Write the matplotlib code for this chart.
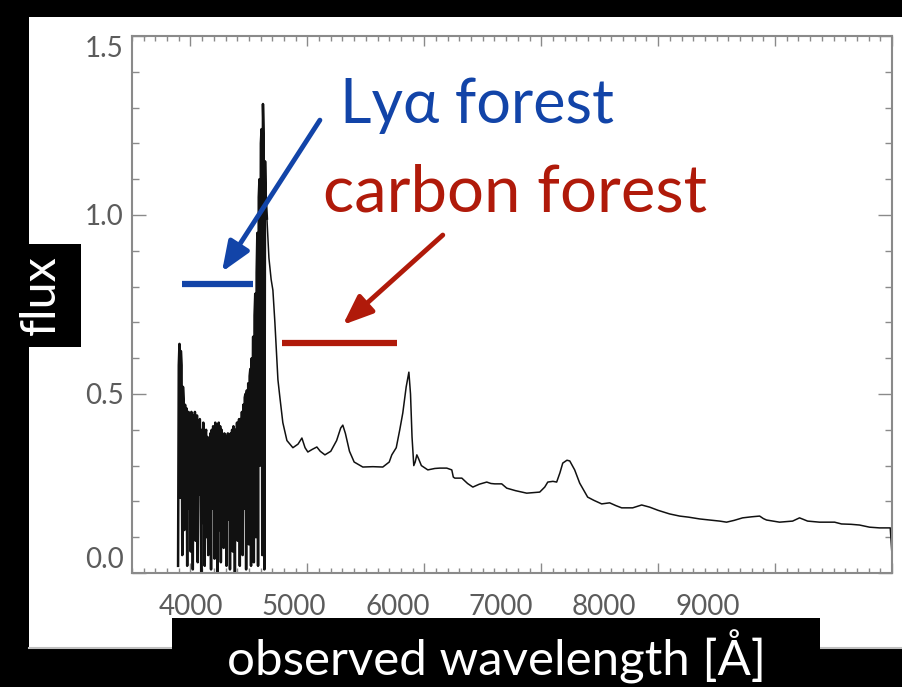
import numpy as np
import matplotlib
matplotlib.use("Agg")
import matplotlib.pyplot as plt
from matplotlib.ticker import MultipleLocator
from matplotlib.patches import Rectangle

# ---- spectrum: Lya forest part (dense absorption) ----
forest_wave = [3894, 3900, 3906, 3912, 3918, 3924, 3930, 3936, 3942, 3948,
               3954, 3960, 3966, 3972, 3978, 3984, 3990, 3996, 4002, 4008,
               4014, 4020, 4026, 4032, 4038, 4044, 4050, 4056, 4062, 4068,
               4074, 4080, 4086, 4092, 4098, 4104, 4110, 4116, 4122, 4128,
               4134, 4140, 4146, 4152, 4158, 4164, 4170, 4176, 4182, 4188,
               4194, 4200, 4206, 4212, 4218, 4224, 4230, 4236, 4242, 4248,
               4254, 4260, 4266, 4272, 4278, 4284, 4290, 4296, 4302, 4308,
               4314, 4320, 4326, 4332, 4338, 4344, 4350, 4356, 4362, 4368,
               4374, 4380, 4386, 4392, 4398, 4404, 4410, 4416, 4422, 4428,
               4434, 4440, 4446, 4452, 4458, 4464, 4470, 4476, 4482, 4488,
               4494, 4500, 4506, 4512, 4518, 4524, 4530, 4536, 4542, 4548,
               4554, 4560, 4566, 4572, 4578, 4584, 4590, 4596, 4602, 4608,
               4614, 4620, 4626, 4632, 4638, 4644]
forest_flux = [0.02, 0.58, 0.64, 0.21, 0.62, 0.58, 0.05, 0.52, 0.48, 0.12,
               0.47, 0.30, 0.46, 0.02, 0.44, 0.45, 0.18, 0.43, 0.06, 0.45,
               0.38, 0.01, 0.44, 0.27, 0.45, 0.09, 0.40, 0.44, 0.03, 0.41,
               0.22, 0.43, 0.35, 0.00, 0.40, 0.14, 0.42, 0.30, 0.02, 0.39,
               0.40, 0.10, 0.38, 0.05, 0.37, 0.26, 0.39, 0.01, 0.40, 0.18,
               0.41, 0.36, 0.04, 0.42, 0.24, 0.41, 0.00, 0.40, 0.42, 0.12,
               0.41, 0.03, 0.40, 0.31, 0.38, 0.07, 0.39, 0.20, 0.38, 0.02,
               0.37, 0.39, 0.15, 0.38, 0.01, 0.39, 0.28, 0.40, 0.06, 0.41,
               0.36, 0.00, 0.40, 0.22, 0.42, 0.09, 0.41, 0.43, 0.02, 0.43,
               0.30, 0.45, 0.05, 0.47, 0.18, 0.49, 0.50, 0.01, 0.51, 0.32,
               0.53, 0.08, 0.55, 0.57, 0.02, 0.60, 0.40, 0.66, 0.03, 0.72,
               0.78, 0.10, 0.84, 0.95, 0.02, 1.05, 1.10, 0.30, 1.20, 1.24,
               0.05, 1.31, 1.22, 0.01, 1.15, 1.05]

# ---- spectrum: red side of Lya, continuum + emission lines ----
cont_wave = [4654, 4671, 4690, 4705, 4722, 4748, 4765, 4790, 4825, 4876,
             4920, 4953, 4980, 5004, 5040, 5081, 5110, 5150, 5200, 5250,
             5285, 5303, 5325, 5360, 5400, 5474, 5560, 5645, 5700, 5722,
             5760, 5790, 5816, 5845, 5868, 5882, 5895, 5910, 5922, 5936,
             5950, 5975, 6030, 6090, 6132, 6192, 6235, 6248, 6261, 6321,
             6370, 6415, 6470, 6534, 6570, 6603, 6662, 6705, 6780, 6876,
             6987, 7030, 7056, 7100, 7132, 7160, 7184, 7220, 7244, 7286,
             7329, 7397, 7450, 7517, 7585, 7640, 7688, 7782, 7859, 7927,
             8000, 8098, 8184, 8260, 8355, 8440, 8526, 8585, 8650, 8722,
             8800, 8868, 8900, 8927, 9038, 9150, 9209, 9240, 9278, 9380,
             9509, 9568, 9650, 9722, 9808, 9893, 9985, 9998]
cont_flux = [0.99, 0.88, 0.82, 0.79, 0.70, 0.54, 0.49, 0.42, 0.37, 0.35,
             0.36, 0.377, 0.35, 0.338, 0.345, 0.352, 0.34, 0.33, 0.34, 0.37,
             0.405, 0.413, 0.39, 0.34, 0.31, 0.296, 0.297, 0.296, 0.31, 0.33,
             0.35, 0.40, 0.447, 0.52, 0.561, 0.50, 0.38, 0.30, 0.31, 0.33,
             0.32, 0.30, 0.288, 0.292, 0.293, 0.293, 0.288, 0.268, 0.265, 0.265,
             0.25, 0.240, 0.248, 0.254, 0.250, 0.249, 0.249, 0.237, 0.230, 0.223,
             0.226, 0.240, 0.254, 0.256, 0.254, 0.28, 0.307, 0.315, 0.313, 0.288,
             0.251, 0.212, 0.203, 0.193, 0.196, 0.188, 0.182, 0.182, 0.190, 0.184,
             0.175, 0.165, 0.159, 0.156, 0.151, 0.148, 0.145, 0.142, 0.147, 0.154,
             0.157, 0.159, 0.152, 0.148, 0.142, 0.145, 0.154, 0.150, 0.145, 0.142,
             0.142, 0.137, 0.136, 0.134, 0.128, 0.126, 0.126, 0.06]

xticks_major = [4000, 5000, 6000, 7000, 8000, 9000]
yticks_major = [0.0, 0.5, 1.0, 1.5]

# markers for the two forests (wavelength range + height) and their arrows
lya_bar = ([3927, 4534], 0.807)
carbon_bar = ([4782, 5765], 0.642)
lya_arrow = ((5107, 1.265), (4269, 0.841))
carbon_arrow = ((6158, 0.944), (5303, 0.693))

BLUE = "#1244a8"
RED = "#b01a0a"
FONT = ["Lato", "DejaVu Sans"]
LABEL_GREY = "#5c5c5c"

W, H = 902, 687
fig = plt.figure(figsize=(W / 100, H / 100), dpi=100, facecolor="black")

# white slide area
fig.patches.append(Rectangle((29 / W, 1 - 648 / H), 1 - 29 / W, 631 / H,
                             transform=fig.transFigure, facecolor="white",
                             edgecolor="none", zorder=-5))
fig.lines.append(plt.Line2D([29 / W, 1], [1 - 648 / H] * 2,
                            transform=fig.transFigure, color="#c0c0c0",
                            lw=1.5, zorder=-4))

ax = fig.add_axes([132 / W, 1 - 573 / H, 760 / W, 537 / H])

# forest drawn a little heavier so the absorption lines merge into a block
ax.plot(forest_wave + cont_wave[:1], forest_flux + cont_flux[:1],
        color="#111111", lw=1.8)
ax.plot(cont_wave, cont_flux, color="#111111", lw=1.1)

ax.set_xlim(3500, 10000)
ax.set_ylim(0, 1.5)

for s in ax.spines.values():
    s.set_color("#8a8a8a")
    s.set_linewidth(1.5)

ax.xaxis.set_major_locator(MultipleLocator(1000))
ax.xaxis.set_minor_locator(MultipleLocator(100))
ax.set_yticks(yticks_major)
ax.yaxis.set_minor_locator(MultipleLocator(0.1))
ax.tick_params(axis="both", which="both", direction="in", top=True, right=True,
               color="#8a8a8a", width=1.0)
ax.tick_params(axis="x", which="major", length=7, labelbottom=False)
ax.tick_params(axis="x", which="minor", length=3.5)
ax.tick_params(axis="y", which="major", length=10, pad=6,
               labelsize=20, labelcolor=LABEL_GREY)
ax.tick_params(axis="y", which="minor", length=5)
ax.set_yticklabels([f"{v:.1f}" for v in yticks_major], family=FONT)
ylabels = ax.get_yticklabels()
ylabels[0].set_va("bottom")
ylabels[-1].set_va("top")

# wavelength labels are spread a bit tighter than the tick marks
STRETCH = 1.13
secax = ax.secondary_xaxis(
    "bottom",
    functions=(lambda x: 4000 + (x - 4000) * STRETCH,
               lambda v: 4000 + (v - 4000) / STRETCH))
secax.set_xticks(xticks_major)
secax.set_xticklabels([str(v) for v in xticks_major], family=FONT)
secax.tick_params(length=0, pad=15, labelsize=20, labelcolor=LABEL_GREY)
secax.spines["bottom"].set_visible(False)

# forest markers
ax.plot(lya_bar[0], [lya_bar[1]] * 2, color=BLUE, lw=4.5, solid_capstyle="butt")
ax.plot(carbon_bar[0], [carbon_bar[1]] * 2, color=RED, lw=4.5,
        solid_capstyle="butt")
for (tail, tip), c in [(lya_arrow, BLUE), (carbon_arrow, RED)]:
    ax.annotate("", xy=tip, xytext=tail,
                arrowprops=dict(arrowstyle="-|>,head_length=1.0,head_width=0.4",
                                mutation_scale=18, lw=3.5, color=c,
                                shrinkA=0, shrinkB=0))

ax.text(5278, 1.257, "Lyα forest", color=BLUE, fontsize=44, family=FONT,
        ha="left", va="baseline")
ax.text(5132, 1.010, "carbon forest", color=RED, fontsize=47, family=FONT,
        ha="left", va="baseline")

# axis titles in black boxes
fig.patches.append(Rectangle((0, 1 - 347 / H), 81 / W, 103 / H,
                             transform=fig.transFigure, facecolor="black",
                             edgecolor="none", zorder=1))
fig.text(41 / W, 1 - 295 / H, "flux", rotation=90, color="white", fontsize=35,
         family=FONT, ha="center", va="center")
fig.patches.append(Rectangle((172 / W, 0), 648 / W, 69 / H,
                             transform=fig.transFigure, facecolor="black",
                             edgecolor="none", zorder=1))
fig.text(496 / W, 1 - 676 / H, "observed wavelength [Å]", color="white",
         fontsize=35.5, family=FONT, ha="center", va="baseline")

fig.savefig("out.png", dpi=100, facecolor="black")
